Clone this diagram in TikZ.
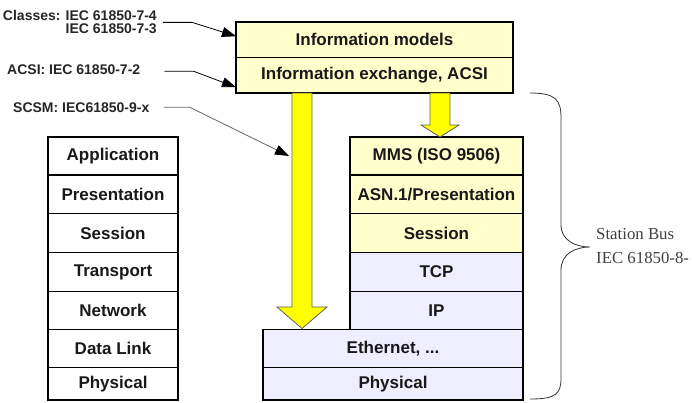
\documentclass[tikz,border=0pt]{standalone}
\usepackage{fontspec}
\setmainfont{Liberation Sans}
\newfontfamily\stfont{Liberation Serif}
\usetikzlibrary{arrows.meta}
\definecolor{paleY}{HTML}{FFFFCC}
\definecolor{lav}{HTML}{EEEEFF}
\definecolor{arrY}{HTML}{FFFF00}
\definecolor{arrEdge}{HTML}{606060}
\begin{document}
\begin{tikzpicture}[x=1pt,y=-1pt,
  layer/.style={draw=black, line width=1.6pt, inner sep=0pt, outer sep=0pt,
    anchor=north west, font=\fontsize{17}{17}\selectfont\bfseries, text=black!90},
  osi/.style={layer, fill=white},
  upper/.style={layer, fill=paleY},
  lower/.style={layer, fill=lav},
  lbl/.style={font=\fontsize{14}{13}\selectfont\bfseries, inner sep=0pt, text=black!85},
  lead/.style={line width=0.8pt, -{Triangle[length=14pt,width=10pt,color=black]}},
  bigarrow/.style={fill=arrY, draw=arrEdge, line width=0.8pt},
  brace/.style={line width=0.8pt, draw=black!80}]
\useasboundingbox (0,0) rectangle (692,402);

% OSI stack
\node[osi, minimum width=130pt, minimum height=38pt]   (app)   at (48,137)   {Application};
\node[osi, minimum width=130pt, minimum height=38.5pt] (pres)  at (48,175)   {Presentation};
\node[osi, minimum width=130pt, minimum height=39pt]   (sess)  at (48,213.5) {Session};
\node[osi, minimum width=130pt, minimum height=39pt]   (trans) at (48,252.5) {Transport};
\node[osi, minimum width=130pt, minimum height=38pt]   (net)   at (48,291.5) {Network};
\node[osi, minimum width=130pt, minimum height=38pt]   (dl)    at (48,329.5) {Data Link};
\node[osi, minimum width=130pt, minimum height=32.5pt] (phys)  at (48,367.5) {Physical};

% top boxes
\node[upper, minimum width=277pt, minimum height=35.5pt] (im) at (236,22)   {Information models};
\node[upper, minimum width=277pt, minimum height=35.5pt] (ie) at (236,57.5) {Information exchange, ACSI};

% IEC 61850 stack
\node[upper, minimum width=173pt, minimum height=38pt]   (mms) at (350,137)   {MMS (ISO 9506)\hspace{16pt}};
\node[upper, minimum width=173pt, minimum height=38.5pt] (asn) at (350,175)   {ASN.1/Presentation};
\node[upper, minimum width=173pt, minimum height=39pt]   (ses) at (350,213.5) {Session};
\node[lower, minimum width=173pt, minimum height=39pt]   (tcp) at (350,252.5) {TCP};
\node[lower, minimum width=173pt, minimum height=38pt]   (ip)  at (350,291.5) {IP};
\node[lower, minimum width=260pt, minimum height=38pt]   (eth) at (263,329.5) {Ethernet, ...};
\node[lower, minimum width=260pt, minimum height=32.5pt] (phy) at (263,367.5) {Physical};

% big yellow arrows
\draw[bigarrow] (292,93) -- (312,93) -- (312,307) -- (327,307) -- (302,328.5)
  -- (277,307) -- (292,307) -- cycle;
\draw[bigarrow] (430,93) -- (450,93) -- (450,125) -- (459,125) -- (440,137)
  -- (421,125) -- (430,125) -- cycle;

% labels
\node[lbl, align=right, anchor=north east] (cls) at (157,10.5) {Classes: IEC 61850-7-4\\IEC 61850-7-3};
\node[lbl, anchor=base west] (acsi) at (7,74) {ACSI: IEC 61850-7-2};
\node[lbl, anchor=base west] (scsm) at (13,112) {SCSM: IEC61850-9-x};
\coordinate (scsmtip) at (289,156);

\draw[lead] ([xshift=6pt]cls.east) -- ++(29,0) -- ([yshift=3.5pt]im.west);
\draw[lead] ([shift={(24pt,-2pt)}]acsi.east) -- ++(29,0) -- ([yshift=-12pt]ie.west);
\draw[lead, draw=black!60] ([xshift=14pt]scsm.east) -- ++(26,0) -- (scsmtip);

% brace
\draw[brace] (530,93) .. controls (556,93) and (561,100) .. (561,118) -- (561,225)
  .. controls (561,240) and (575,247) .. (590,247)
  .. controls (575,247) and (561,254) .. (561,270) -- (561,378)
  .. controls (561,394) and (556,399) .. (530,399);
\node[font=\stfont\fontsize{16.8}{24}\selectfont, align=left, anchor=north west, inner sep=0pt, text=black!75] (sb) at (596,228.5) {Station Bus\\IEC 61850-8-};
\end{tikzpicture}
\end{document}
